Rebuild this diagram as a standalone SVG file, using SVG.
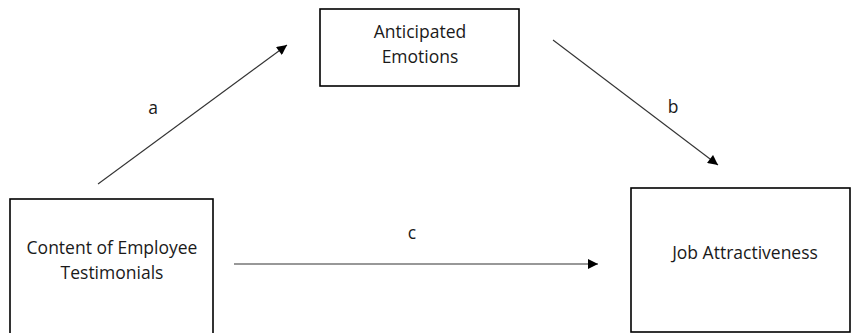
<svg xmlns="http://www.w3.org/2000/svg" width="851" height="333" viewBox="0 0 851 333">
<style>
.box{fill:#fff;stroke:#000;stroke-width:1.6}
.t{font-family:"Open Sans","Liberation Sans",sans-serif;font-size:17.5px;fill:#1a1a1a;text-anchor:middle}
.c{stroke:#333;stroke-width:1.1;fill:none;marker-end:url(#ah)}
</style>
<defs>
<marker id="ah" viewBox="0 0 10 10" refX="10" refY="5" markerWidth="12" markerHeight="10" markerUnits="userSpaceOnUse" orient="auto">
<path d="M0,0 L10,5 L0,10 z" fill="#000"/>
</marker>
</defs>
<rect width="851" height="333" fill="#fff"/>
<g id="edges">
<line class="c" x1="98" y1="184" x2="287" y2="45"/>
<line class="c" x1="553" y1="40" x2="718" y2="165"/>
<line class="c" x1="234" y1="264" x2="598" y2="264"/>
<text class="t" x="153" y="114">a</text>
<text class="t" x="673" y="113">b</text>
<text class="t" x="412" y="239">c</text>
</g>
<g id="content">
<rect class="box" x="10" y="199" width="203" height="140"/>
<text class="t" x="112" y="254">Content of Employee</text>
<text class="t" x="112" y="279">Testimonials</text>
</g>
<g id="emotions">
<rect class="box" x="320" y="9" width="199" height="77"/>
<text class="t" x="420" y="38">Anticipated</text>
<text class="t" x="420" y="63">Emotions</text>
</g>
<g id="job">
<rect class="box" x="631" y="188" width="219" height="144"/>
<text class="t" x="745" y="259">Job Attractiveness</text>
</g>
</svg>
